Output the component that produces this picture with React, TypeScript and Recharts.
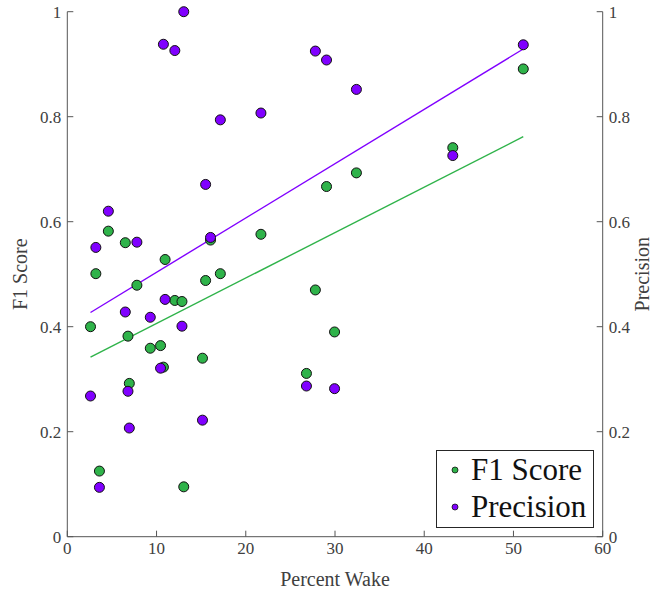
import React from 'react';
import { ScatterChart, Scatter, XAxis, YAxis } from 'recharts';

const percentWake = [2.6, 3.2, 3.6, 4.6, 6.5, 6.8, 6.95, 7.8, 9.3, 10.45, 10.77, 10.96, 12.05, 12.85, 13.05, 15.15, 15.5, 16.05, 17.15, 21.7, 26.8, 27.8, 29.05, 29.95, 32.4, 43.2, 51.1];
const f1Score = [0.4, 0.501, 0.125, 0.582, 0.56, 0.382, 0.292, 0.479, 0.359, 0.364, 0.323, 0.528, 0.45, 0.448, 0.095, 0.34, 0.488, 0.565, 0.501, 0.576, 0.311, 0.47, 0.667, 0.39, 0.693, 0.741, 0.891];
const precision = [0.268, 0.551, 0.094, 0.62, 0.428, 0.277, 0.207, 0.561, 0.418, 0.321, 0.938, 0.452, 0.926, 0.401, 1.0, 0.222, 0.671, 0.57, 0.794, 0.807, 0.287, 0.925, 0.908, 0.282, 0.852, 0.726, 0.937];

// fitted lines, end points
const fitX = [2.6, 51.1];
const f1Fit = [0.342, 0.762];
const precisionFit = [0.427, 0.929];

const xTicks = [0, 10, 20, 30, 40, 50, 60];
const yTicks = [0, 0.2, 0.4, 0.6, 0.8, 1];

const GREEN = '#2fb34a';
const PURPLE = '#8000ff';
const AXIS = '#555555';
const TEXT = '#404040';
const FONT = "'Liberation Serif', serif";

const f1Data = percentWake.map((x, i) => ({ x, y: f1Score[i] }));
const precisionData = percentWake.map((x, i) => ({ x, y: precision[i] }));
const f1FitData = fitX.map((x, i) => ({ x, y: f1Fit[i] }));
const precisionFitData = fitX.map((x, i) => ({ x, y: precisionFit[i] }));

const legendItems = [
  { name: 'F1 Score', color: GREEN },
  { name: 'Precision', color: PURPLE },
];

const tickStyle = { fontFamily: FONT, fontSize: 17 };
const labelStyle = { fontFamily: FONT, fontSize: 20, textAnchor: 'middle' as const };

const dot = (fill: string) => (props: any) => (
  <circle cx={props.cx} cy={props.cy} r={5} fill={fill} stroke="#111" strokeWidth={1} />
);
const noDot = () => <g />;

const XTick = (props: any) => {
  const { x, y, payload } = props;
  return (
    <g>
      <line x1={x} y1={y} x2={x} y2={y - 6} stroke={AXIS} />
      <text x={x} y={y + 17} textAnchor="middle" fill={TEXT} style={tickStyle}>
        {payload.value}
      </text>
    </g>
  );
};

const LeftTick = (props: any) => {
  const { x, y, payload } = props;
  return (
    <g>
      <line x1={x} y1={y} x2={x + 6} y2={y} stroke={AXIS} />
      <text x={x - 6} y={y} dy="0.35em" textAnchor="end" fill={TEXT} style={tickStyle}>
        {payload.value}
      </text>
    </g>
  );
};

const RightTick = (props: any) => {
  const { x, y, payload } = props;
  return (
    <g>
      <line x1={x} y1={y} x2={x - 6} y2={y} stroke={AXIS} />
      <text x={x + 6} y={y} dy="0.35em" textAnchor="start" fill={TEXT} style={tickStyle}>
        {payload.value}
      </text>
    </g>
  );
};

const ChartLegend = () => (
  <div
    style={{
      position: 'absolute',
      left: 436,
      top: 450,
      border: '1px solid #262626',
      background: '#fff',
      width: 156,
      height: 76,
      fontFamily: FONT,
      fontSize: 31,
      color: '#111',
    }}
  >
    {legendItems.map((item) => (
      <div key={item.name} style={{ display: 'flex', alignItems: 'center', height: 37, lineHeight: '37px' }}>
        <svg width={34} height={10} style={{ flex: 'none' }}>
          <circle cx={18} cy={5} r={3} fill={item.color} stroke="#111" strokeWidth={0.8} />
        </svg>
        <span>{item.name}</span>
      </div>
    ))}
  </div>
);

export default function App() {
  return (
    <div style={{ position: 'absolute', left: 0, top: 0, width: 654, height: 592, background: '#fff', fontFamily: FONT }}>
      <ScatterChart width={654} height={592} margin={{ top: 11.7, right: 0, bottom: 0, left: 0 }}>
        <XAxis
          type="number"
          dataKey="x"
          domain={[0, 60]}
          ticks={xTicks}
          height={55.3}
          stroke={AXIS}
          tickLine={false}
          tickSize={0}
          tickMargin={0}
          tick={<XTick />}
          label={{ value: 'Percent Wake', position: 'insideBottom', offset: 6, fill: TEXT, style: labelStyle }}
        />
        <YAxis
          yAxisId="left"
          type="number"
          dataKey="y"
          domain={[0, 1]}
          ticks={yTicks}
          width={67.3}
          stroke={AXIS}
          tickLine={false}
          tickSize={0}
          tickMargin={0}
          tick={<LeftTick />}
          label={{ value: 'F1 Score', angle: -90, position: 'insideLeft', offset: 20, fill: TEXT, style: labelStyle }}
        />
        <YAxis
          yAxisId="right"
          orientation="right"
          type="number"
          dataKey="y"
          domain={[0, 1]}
          ticks={yTicks}
          width={51.3}
          stroke={AXIS}
          tickLine={false}
          tickSize={0}
          tickMargin={0}
          tick={<RightTick />}
          label={{ value: 'Precision', angle: -90, position: 'insideRight', offset: 12, fill: TEXT, style: labelStyle }}
        />
        <Scatter
          yAxisId="left"
          name="F1 fit"
          data={f1FitData}
          line={{ stroke: GREEN, strokeWidth: 1.4 }}
          shape={noDot}
          legendType="none"
          isAnimationActive={false}
        />
        <Scatter
          yAxisId="right"
          name="Precision fit"
          data={precisionFitData}
          line={{ stroke: PURPLE, strokeWidth: 1.4 }}
          shape={noDot}
          legendType="none"
          isAnimationActive={false}
        />
        <Scatter yAxisId="left" name="F1 Score" data={f1Data} shape={dot(GREEN)} isAnimationActive={false} />
        <Scatter yAxisId="right" name="Precision" data={precisionData} shape={dot(PURPLE)} isAnimationActive={false} />
      </ScatterChart>
      <ChartLegend />
    </div>
  );
}
